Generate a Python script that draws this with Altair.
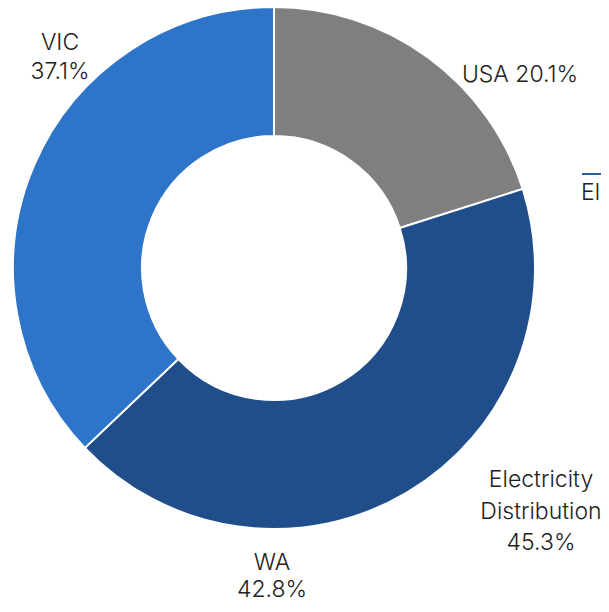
import altair as alt
import pandas as pd

categories = ["USA", "WA", "VIC"]
shares = [20.1, 42.8, 37.1]
slice_order = [0, 1, 2]
colors = ["#7F7F7F", "#1F4E8A", "#2E75C9"]

side_lines = ["Electricity", "Distribution", "45.3%"]
side_cut_label = "El"

df = pd.DataFrame({"cat": categories, "share": shares, "ord": slice_order})

FONT = "Inter"
FS = 23
TXT = "#222222"

donut = alt.Chart(df).mark_arc(
    innerRadius=132, outerRadius=261, stroke="white", strokeWidth=2
).encode(
    theta=alt.Theta("share:Q", stack=True),
    order=alt.Order("ord:Q"),
    color=alt.Color("cat:N", scale=alt.Scale(domain=categories, range=colors), legend=None),
)

def label(text, x, y, align="center", lh=29):
    return alt.Chart(pd.DataFrame({"t": [text]})).mark_text(
        font=FONT, fontSize=FS, fontWeight=300, color=TXT, align=align,
        baseline="alphabetic", lineBreak="\n", lineHeight=lh
    ).encode(text="t:N", x=alt.value(x), y=alt.value(y))

usa = label(f"{categories[0]} {shares[0]}%", 512, 74)
vic = label(f"{categories[2]}\n{shares[2]}%", 52, 42)
wa = label(f"{categories[1]}\n{shares[1]}%", 264, 562, lh=27)
side = label("\n".join(side_lines), 533, 479, lh=31.5)
el = label(side_cut_label, 573, 192, align="left")

hline = alt.Chart(df.head(1)).mark_rule(color="#2E5C9A", strokeWidth=2).encode(
    x=alt.value(574), x2=alt.value(600), y=alt.value(166)
)

chart = alt.layer(donut, usa, vic, wa, side, el, hline).properties(
    width=532, height=520,
    padding={"left": 0, "top": 0, "right": 61, "bottom": 76},
    autosize=alt.AutoSizeParams(type="none"),
).configure_view(stroke=None)

chart.save("out.html", embed_options={"renderer": "svg", "actions": False})
